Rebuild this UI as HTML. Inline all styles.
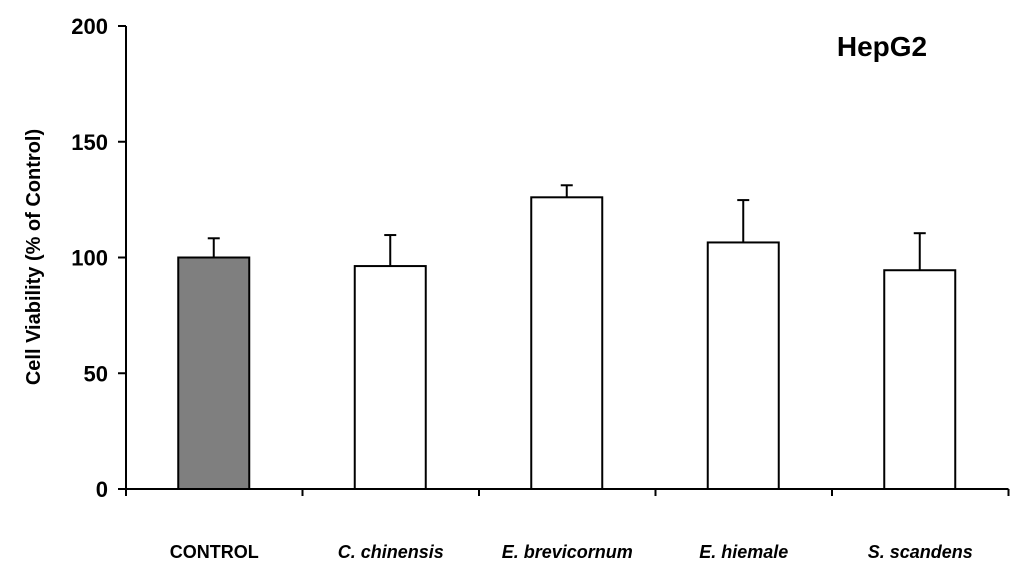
<!DOCTYPE html>
<html><head><meta charset="utf-8"><style>
html,body{margin:0;padding:0;background:#fff;}
svg{display:block;font-family:"Liberation Sans",Arial,sans-serif;font-weight:bold;}
</style></head><body>
<svg id="chart" width="1024" height="574"></svg>
<script>
const categories=["CONTROL","C. chinensis","E. brevicornum","E. hiemale","S. scandens"];
const italicCat=[false,true,true,true,true];
const values=[100,96.3,126,106.5,94.5];
const errors=[8.3,13.4,5.2,18.3,16];
const yTicks=[0,50,100,150,200];
const NS="http://www.w3.org/2000/svg";
const svg=document.getElementById('chart');
const X0=126,CW=176.5,Y0=489,Y200=26;
const y=v=>Y0-(v/200)*(Y0-Y200);
const xc=i=>X0+CW*(i+0.5);
function mk(t,a,p){const e=document.createElementNS(NS,t);for(const k in a)e.setAttribute(k,a[k]);(p||svg).appendChild(e);return e;}
let g=mk('g',{});


mk('line',{x1:X0,y1:Y200,x2:X0,y2:Y0,stroke:'#000','stroke-width':2},g);
yTicks.forEach(t=>{
  mk('line',{x1:X0-8,y1:y(t),x2:X0,y2:y(t),stroke:'#000','stroke-width':2},g);
  const tx=mk('text',{x:X0-18,y:y(t)+8,'text-anchor':'end','font-size':22},g);
  tx.textContent=t;
  
  
});
const yt=mk('text',{x:0,y:0,transform:'translate(40,257) rotate(-90)','text-anchor':'middle','font-size':20});
yt.textContent='Cell Viability (% of Control)';


const xa=mk('g',{});


mk('line',{x1:X0,y1:Y0,x2:X0+CW*categories.length,y2:Y0,stroke:'#000','stroke-width':2},xa);
for(let i=0;i<=categories.length;i++){
  mk('line',{x1:X0+CW*i,y1:Y0,x2:X0+CW*i,y2:Y0+7,stroke:'#000','stroke-width':2},xa);
}
categories.forEach((c,i)=>{
  const bw=71,cx=xc(i)-0.5;
  const b=mk('rect',{x:cx-bw/2,y:y(values[i]),width:bw,height:Y0-y(values[i]),fill:i===0?'#7f7f7f':'#fff',stroke:'#000','stroke-width':2});
  
  
  const eb=mk('g',{});
  
  
  mk('line',{x1:cx,y1:y(values[i]),x2:cx,y2:y(values[i]+errors[i]),stroke:'#000','stroke-width':2},eb);
  mk('line',{x1:cx-6,y1:y(values[i]+errors[i]),x2:cx+6,y2:y(values[i]+errors[i]),stroke:'#000','stroke-width':2},eb);
  const t=mk('text',{x:xc(i),y:558,'text-anchor':'middle','font-size':18,'font-style':italicCat[i]?'italic':'normal'});
  t.textContent=c;
  
  
});
const ti=mk('text',{x:882,y:56,'text-anchor':'middle','font-size':28});
ti.textContent='HepG2';


</script>
</body></html>
